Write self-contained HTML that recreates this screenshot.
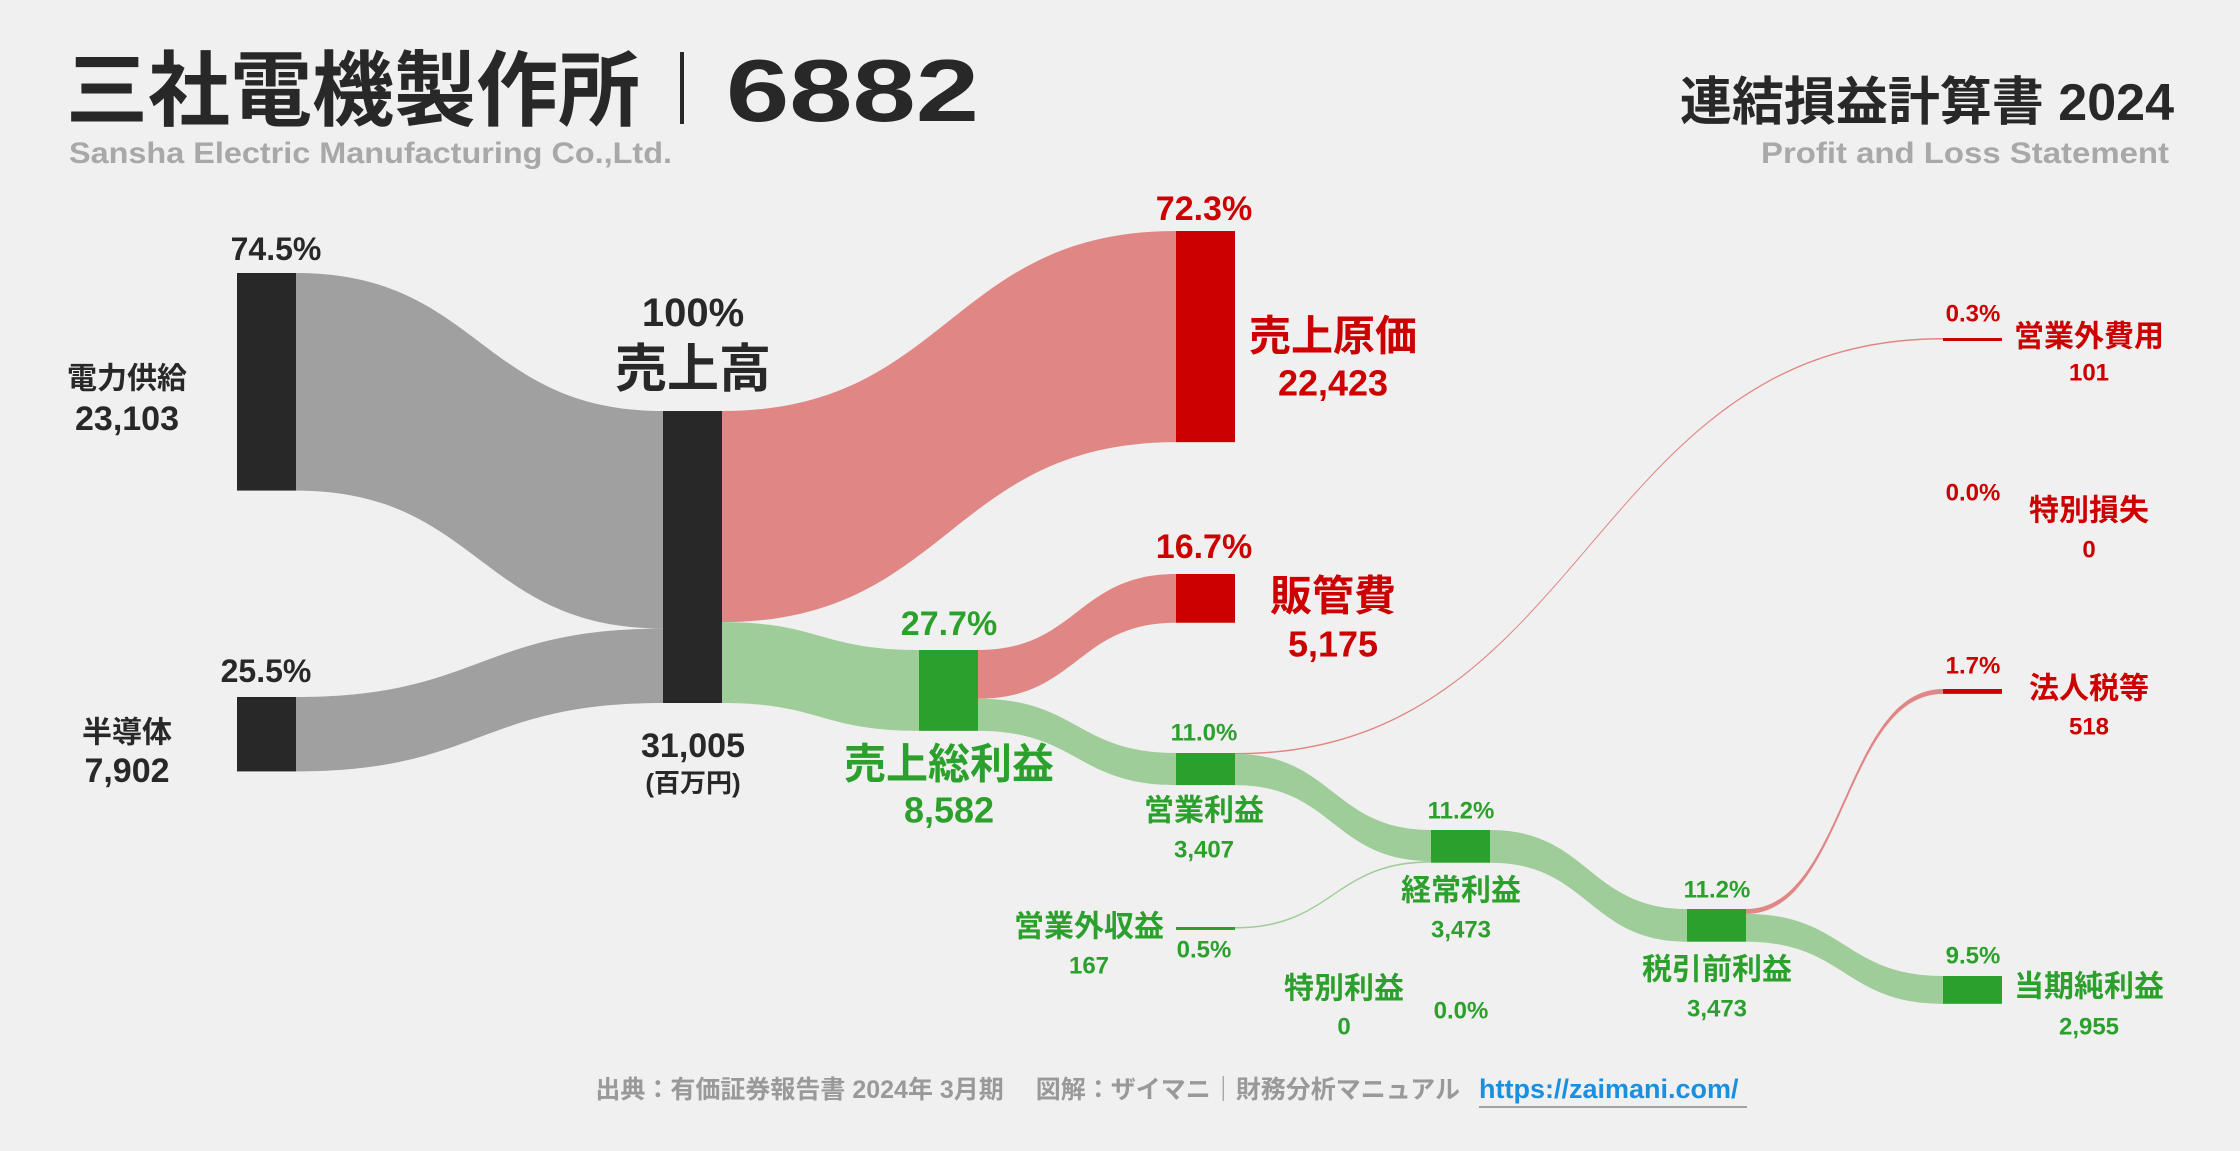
<!DOCTYPE html>
<html><head><meta charset="utf-8">
<style>
html,body{margin:0;padding:0;background:#f0f0f0;}
svg{display:block;}
text{font-family:"Liberation Sans","Noto Sans CJK JP",sans-serif;font-weight:bold;}
</style></head>
<body>
<svg id="chart" width="2240" height="1151" viewBox="0 0 2240 1151" xmlns="http://www.w3.org/2000/svg">
<rect width="2240" height="1151" fill="#f0f0f0"/>
<text x="66" y="119" font-size="82" fill="#282828">三社電機製作所</text>
<line x1="682" y1="52" x2="682" y2="124" stroke="#282828" stroke-width="4"/>
<text x="726" y="121" font-size="88" fill="#282828" textLength="253" lengthAdjust="spacingAndGlyphs">6882</text>
<text x="69" y="163" font-size="30" fill="#a8a8a8" textLength="603" lengthAdjust="spacingAndGlyphs">Sansha Electric Manufacturing Co.,Ltd.</text>
<text x="2174" y="120" font-size="52" fill="#282828" text-anchor="end">連結損益計算書 2024</text>
<text x="1761" y="163" font-size="30" fill="#a8a8a8" textLength="408" lengthAdjust="spacingAndGlyphs">Profit and Loss Statement</text>
<g id="links"></g>
<g id="nodes"></g>
<g id="labels"></g>
<text x="1460" y="1098" font-size="25" fill="#999" text-anchor="end">出典：有価証券報告書 2024年 3月期　 図解：ザイマニ｜財務分析マニュアル</text>
<a><text x="1479" y="1098" font-size="27" fill="#1a8fe0">https://zaimani.com/</text></a>
<line x1="1479" y1="1107" x2="1747" y2="1107" stroke="#888" stroke-width="1.5"/>
</svg>
<script>
const nodeNames = ["電力供給","半導体","売上高","売上原価","販管費","売上総利益","営業利益","営業外費用","営業外収益","経常利益","特別利益","特別損失","税引前利益","法人税等","当期純利益"];
const nodeValues = [23103,7902,31005,22423,5175,8582,3407,101,167,3473,0,0,3473,518,2955];
const nodePercents = ["74.5%","25.5%","100%","72.3%","16.7%","27.7%","11.0%","0.3%","0.5%","11.2%","0.0%","0.0%","11.2%","1.7%","9.5%"];
const nodeValueLabels = ["23,103","7,902","31,005","22,423","5,175","8,582","3,407","101","167","3,473","0","0","3,473","518","2,955"];
const linkSources = [0,1,2,2,5,5,6,6,8,9,12,12];
const linkTargets = [2,2,3,5,4,6,7,9,9,12,13,14];
const linkValues = [23103,7902,22423,8582,5175,3407,101,3306,167,3473,518,2955];

const totalPx = 292;
const k = totalPx / nodeValues[2];
const colX = [237,663,919,1176,1431,1687,1943];
const W = 59;
const layCol = [0,0,1,3,3,2,3,6,3,4,4,6,5,6,6];
const layTop = [273,697,411,231,574,650,753,338,927,830,1011,495,909,689,976];
const nodeColor = ["#282828","#282828","#282828","#cc0000","#cc0000","#2ca02c","#2ca02c","#cc0000","#2ca02c","#2ca02c","#2ca02c","#cc0000","#2ca02c","#cc0000","#2ca02c"];
const NS="http://www.w3.org/2000/svg";
function h(v){return Math.max(v*k, v>0?1.5:0);}
const outOff = nodeValues.map(()=>0), inOff = nodeValues.map(()=>0);
const gL=document.getElementById('links'), gN=document.getElementById('nodes'), gT=document.getElementById('labels');
for(let i=0;i<linkValues.length;i++){
  const s=linkSources[i], t=linkTargets[i], v=linkValues[i];
  const th=Math.max(v*k,1.5);
  const x0=colX[layCol[s]]+W, x1=colX[layCol[t]];
  const y0=layTop[s]+outOff[s], y1=layTop[t]+inOff[t];
  outOff[s]+=v*k; inOff[t]+=v*k;
  const mx=(x0+x1)/2;
  const p=document.createElementNS(NS,'path');
  p.setAttribute('d',`M${x0},${y0} C${mx},${y0} ${mx},${y1} ${x1},${y1} L${x1},${y1+th} C${mx},${y1+th} ${mx},${y0+th} ${x0},${y0+th} Z`);
  const red=(t===3||t===4||t===7||t===13), grey=(s<2);
  p.setAttribute('fill', grey?'#a0a0a0':(red?'#e08785':'#9fcd9a'));
  
  
  gL.appendChild(p);
}
for(let i=0;i<nodeValues.length;i++){
  if(nodeValues[i]<=0) continue;
  const r=document.createElementNS(NS,'rect');
  r.setAttribute('x',colX[layCol[i]]); r.setAttribute('y',layTop[i]);
  r.setAttribute('width',W); r.setAttribute('height',h(nodeValues[i])<3?3:h(nodeValues[i]));
  r.setAttribute('fill',nodeColor[i]);
  
  
  gN.appendChild(r);
}
const G="#2ca02c",R="#cc0000",D="#282828";
const lab=[
 [276,249,32,127,379,30,127,419,34,D],
 [266,671,32,127,733,30,127,771,34,D],
 [693,313,40,693,370,52,693,746,34,D],
 [1204,209,34,1333,336,42,1333,383,36,R],
 [1204,547,34,1333,596,42,1333,644,36,R],
 [949,624,34,949,764,42,949,810,36,G],
 [1204,733,24,1204,811,30,1204,850,24,G],
 [1973,314,24,2089,337,30,2089,373,24,R],
 [1204,950,24,1089,927,30,1089,966,24,G],
 [1461,811,24,1461,891,30,1461,930,24,G],
 [1461,1011,24,1344,989,30,1344,1027,24,G],
 [1973,493,24,2089,511,30,2089,550,24,R],
 [1717,890,24,1717,970,30,1717,1009,24,G],
 [1973,666,24,2089,689,30,2089,727,24,R],
 [1973,956,24,2089,987,30,2089,1027,24,G]
];
function txt(x,y,s,c,str,name){
  const t=document.createElementNS(NS,'text');
  t.setAttribute('x',x);t.setAttribute('y',y);t.setAttribute('font-size',s);
  t.setAttribute('fill',c);t.setAttribute('text-anchor','middle');t.setAttribute('dominant-baseline','central');
  t.textContent=str;
  
  
  gT.appendChild(t);
}
for(let i=0;i<lab.length;i++){
  const L=lab[i];
  txt(L[0],L[1],L[2],L[9],nodePercents[i],'percent-'+nodeNames[i]);
  txt(L[3],L[4],L[5],L[9],nodeNames[i],'name-'+nodeNames[i]);
  txt(L[6],L[7],L[8],L[9],nodeValueLabels[i],'value-'+nodeNames[i]);
}
txt(693,783,26,D,"(百万円)","unit-label");
</script>
</body></html>
